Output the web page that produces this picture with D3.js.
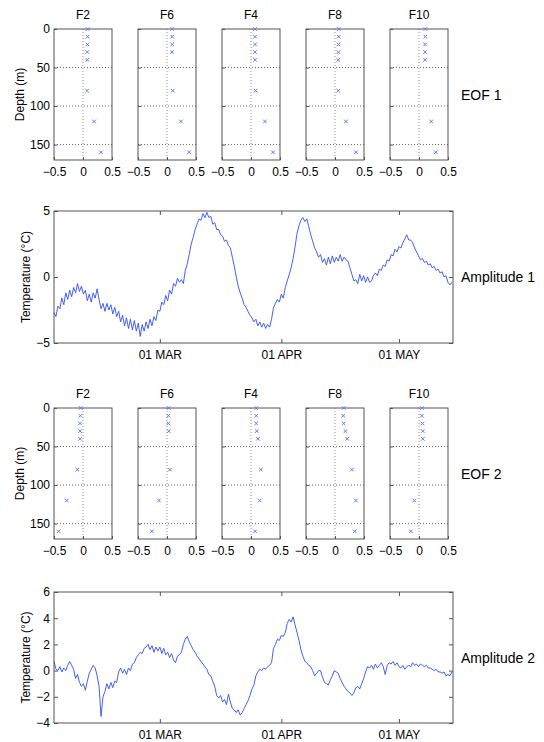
<!DOCTYPE html>
<html>
<head>
<meta charset="utf-8">
<script src="https://cdn.jsdelivr.net/npm/d3@7"></script>
<style>
  body { margin: 0; background: #fff; }
  svg { display: block; font-family: "Liberation Sans", Arial, sans-serif; }
  .axis text { font-size: 12px; fill: #000; }
  .axis line { stroke: #555; }
  .grid { stroke: #555; stroke-dasharray: 1,2; stroke-width: 0.9; }
  .frame { fill: none; stroke: #555; stroke-width: 1; }
</style>
</head>
<body>
<script>
// stations and sampled depths
const stations = ['F2', 'F6', 'F4', 'F8', 'F10'];
const depths = [0, 10, 20, 30, 40, 80, 120, 160];
const depthTicks = [0, 50, 100, 150];
const eofTicks = [-0.5, 0, 0.5];

// EOF loadings per station, one value per depth (null = no sensor)
const eof1 = [
  [0.08, 0.08, 0.075, 0.075, 0.075, 0.07, 0.19, 0.31],
  [0.09, 0.09, 0.09, 0.085, null, 0.1, 0.24, 0.38],
  [0.07, 0.07, 0.07, 0.07, 0.07, 0.08, 0.24, 0.38],
  [0.065, 0.065, 0.06, 0.06, 0.055, 0.055, 0.19, 0.36],
  [0.11, 0.11, 0.105, 0.105, 0.105, null, 0.21, 0.29],
];
const eof2 = [
  [-0.04, -0.045, -0.05, -0.05, -0.05, -0.1, -0.28, -0.42],
  [0.03, 0.025, 0.025, 0.03, null, 0.05, -0.14, -0.26],
  [0.09, 0.09, 0.09, 0.1, 0.12, 0.17, 0.15, 0.07],
  [0.15, 0.14, 0.15, 0.18, 0.21, 0.29, 0.36, 0.34],
  [0.05, 0.05, 0.06, 0.065, 0.065, null, -0.08, -0.14],
];

// amplitude time series, 12-hourly from 02 Feb
const amp1 = [
  -2.7, -3.0, -2.2, -2.4, -1.6, -2.1, -1.2, -1.7, -1.0, -1.5, -0.8, -1.2, -0.5, -1.1, -0.7, -1.3,
  -1.0, -1.8, -1.3, -1.9, -1.2, -1.6, -0.9, -1.7, -2.4, -2.0, -2.6, -2.0, -2.5, -2.1, -2.8, -2.3,
  -3.0, -2.6, -3.4, -2.9, -3.7, -3.1, -3.9, -3.2, -4.0, -3.3, -4.1, -3.5, -4.5, -3.6, -4.1, -3.4,
  -3.9, -3.2, -3.7, -3.0, -3.3, -2.5, -2.6, -1.9, -2.1, -1.4, -1.8, -1.0, -1.3, -0.5, -0.7, -0.1,
  -0.4, -0.2, -0.5, 0.5, 1.0, 1.7, 2.5, 3.0, 3.6, 4.0, 4.4, 4.3, 4.8, 4.5, 4.9, 4.5,
  4.6, 4.0, 4.1, 3.6, 3.6, 3.2, 3.1, 2.7, 2.8, 2.4, 2.2, 1.5, 0.8, 0.0, -0.7, -1.2,
  -1.6, -2.1, -2.3, -2.6, -2.9, -3.1, -3.4, -3.2, -3.7, -3.4, -3.8, -3.5, -3.9, -3.6, -3.8, -3.2,
  -2.3, -2.0, -1.7, -1.9, -1.3, -1.6, -0.8, -0.3, 0.2, 0.7, 1.4, 2.3, 3.3, 3.9, 4.3, 4.5,
  4.2, 4.4, 3.8, 3.2, 2.7, 2.2, 1.9, 1.5, 1.7, 1.1, 1.4, 0.9, 1.5, 1.0, 1.6, 1.1,
  1.5, 1.2, 1.7, 1.2, 1.5, 1.3, 1.2, 0.7, 0.2, -0.3, -0.2, -0.5, 0.2, -0.3, 0.1, -0.4,
  0.0, -0.4, -0.3, 0.1, 0.3, 0.1, 0.6, 0.5, 0.9, 0.8, 1.3, 1.2, 1.7, 1.6, 2.1, 1.9,
  2.3, 2.2, 2.6, 2.9, 3.2, 2.8, 2.8, 2.6, 2.2, 1.9, 1.6, 1.3, 1.4, 1.1, 1.2, 0.9,
  1.0, 0.7, 0.8, 0.5, 0.6, 0.3, 0.4, 0.0, 0.1, -0.4, -0.6, -0.4,
];
const amp2 = [
  0.7, 0.1, 0.0, 0.3, -0.1, 0.2, 0.0, 0.4, 0.7, 0.4, 0.1, -0.6, -0.3, -0.9, -1.2, -1.0,
  -1.5, -0.8, -0.2, 0.1, 0.4, 0.2, -0.4, -1.2, -3.5, -2.0, -1.6, -1.0, -1.4, -0.9, -1.3, -0.8,
  -0.9, -0.1, 0.2, -0.2, 0.1, -0.3, 0.2, 0.0, 0.5, 0.6, 1.0, 1.2, 1.4, 1.3, 1.7, 1.8,
  2.0, 1.6, 1.9, 1.4, 1.8, 1.5, 1.8, 1.3, 1.7, 1.2, 1.4, 1.0, 1.3, 0.8, 0.6, 1.1,
  1.2, 1.4, 2.0, 2.4, 2.6, 2.2, 1.9, 1.6, 1.4, 1.1, 0.9, 0.7, 0.5, 0.3, 0.1, -0.3,
  -0.4, -0.8, -1.2, -1.9, -2.1, -1.9, -2.4, -2.2, -2.6, -1.8, -2.4, -2.9, -3.0, -3.2, -3.0, -3.4,
  -3.2, -2.9, -2.6, -2.3, -1.9, -1.4, -1.1, -0.4, -0.1, 0.1, 0.0, 0.2, 0.1, 0.3, 0.4, 0.6,
  1.7, 2.0, 2.4, 2.3, 2.7, 2.6, 2.9, 3.6, 3.9, 3.7, 4.1, 3.5, 2.9, 2.3, 1.6, 1.1,
  0.7, 0.6, 0.4, 0.3, 0.0, -0.4, -0.2, 0.0, 0.0, -0.5, -0.9, -1.0, -1.1, -0.7, -0.4, 0.0,
  -0.1, -0.2, -0.6, -0.9, -1.2, -1.4, -1.6, -1.7, -1.9, -1.7, -1.3, -1.2, -1.4, -1.0, -0.6, -0.1,
  0.3, 0.2, 0.4, 0.1, 0.5, 0.2, 0.4, 0.6, 0.3, -0.3, 0.4, 0.6, 0.5, 0.7, 0.4, 0.6,
  0.3, 0.2, 0.4, 0.1, 0.3, 0.4, 0.3, 0.6, 0.4, 0.5, 0.3, 0.5, 0.4, 0.3, 0.4, 0.2,
  0.2, 0.1, 0.0, 0.1, -0.1, -0.1, -0.2, -0.1, -0.4, -0.3, -0.4, -0.1,
];
const dateTicks = [new Date(Date.UTC(2001, 2, 1)), new Date(Date.UTC(2001, 3, 1)), new Date(Date.UTC(2001, 4, 1))];

const W = 544, H = 742;
const lineColor = '#2f4ef5';
const markColor = '#6478ff';
const plotLeft = 54, plotRight = 453;
const panelW = 58, panelStep = 84;

const svg = d3.select('body').append('svg')
  .attr('width', W)
  .attr('height', H);

const fmt = d3.format('~g');

/* EOF profile row */
function drawEof(top, values, label) {
  const height = 131;
  const y = d3.scaleLinear().domain([0, 170]).range([top, top + height]);

  stations.forEach((name, i) => {
    const left = plotLeft + i * panelStep;
    const x = d3.scaleLinear().domain([-0.5, 0.5]).range([left, left + panelW]);
    const g = svg.append('g').attr('class', 'panel');

    // dotted grid
    g.selectAll('.hgrid')
      .data(depthTicks.slice(1))
      .enter().append('line')
      .attr('class', 'grid')
      .attr('x1', left).attr('x2', left + panelW)
      .attr('y1', d => y(d)).attr('y2', d => y(d));
    g.append('line')
      .attr('class', 'grid')
      .style('stroke', '#888')
      .attr('x1', x(0)).attr('x2', x(0))
      .attr('y1', top).attr('y2', top + height);

    const xAxis = d3.axisBottom(x)
      .tickValues(eofTicks)
      .tickSizeInner(-3)
      .tickSizeOuter(0)
      .tickPadding(7)
      .tickFormat(fmt);
    g.append('g')
      .attr('class', 'x axis')
      .attr('transform', `translate(0, ${top + height})`)
      .call(xAxis)
      .call(s => s.select('.domain').remove());

    const yAxis = d3.axisLeft(y)
      .tickValues(depthTicks)
      .tickSizeInner(-3)
      .tickSizeOuter(0)
      .tickPadding(4)
      .tickFormat(i === 0 ? fmt : '');
    g.append('g')
      .attr('class', 'y axis')
      .attr('transform', `translate(${left}, 0)`)
      .call(yAxis)
      .call(s => s.select('.domain').remove());

    g.append('rect')
      .attr('class', 'frame')
      .attr('x', left).attr('y', top)
      .attr('width', panelW).attr('height', height);

    // x markers
    const pts = depths.map((d, k) => ({ depth: d, v: values[i][k] })).filter(p => p.v !== null);
    g.selectAll('.mark')
      .data(pts)
      .enter().append('path')
      .attr('class', 'mark')
      .attr('d', 'M-1.8,-1.8L1.8,1.8M-1.8,1.8L1.8,-1.8')
      .attr('transform', p => `translate(${x(p.v)}, ${y(p.depth)})`)
      .style('stroke', markColor)
      .style('stroke-width', 1)
      .style('fill', 'none');

    g.append('text')
      .attr('x', left + panelW / 2)
      .attr('y', top - 10)
      .style('text-anchor', 'middle')
      .style('font-size', '12px')
      .text(name);
  });

  svg.append('text')
    .attr('transform', `translate(20, ${top + height / 2}) rotate(-90)`)
    .attr('dy', '0.35em')
    .style('text-anchor', 'middle')
    .style('font-size', '12px')
    .text('Depth (m)');

  svg.append('text')
    .attr('x', 461)
    .attr('y', top + height / 2)
    .attr('dy', '0.36em')
    .style('font-size', '14px')
    .text(label);
}

/* amplitude time series */
function drawAmp(top, height, series, yDomain, yTicks, label) {
  const t0 = Date.UTC(2001, 1, 2);
  const dates = series.map((v, i) => new Date(t0 + i * 12 * 3600e3));
  const x = d3.scaleUtc()
    .domain([new Date(t0), new Date(Date.UTC(2001, 4, 14, 19))])
    .range([plotLeft, plotRight]);
  const y = d3.scaleLinear().domain(yDomain).range([top + height, top]);
  const g = svg.append('g').attr('class', 'amp');
  const dateFmt = d => d3.utcFormat('%d %b')(d).toUpperCase();

  g.append('g')
    .attr('class', 'x axis')
    .attr('transform', `translate(0, ${top + height})`)
    .call(d3.axisBottom(x).tickValues(dateTicks).tickSizeInner(-4).tickSizeOuter(0).tickPadding(7).tickFormat(dateFmt))
    .call(s => s.select('.domain').remove());
  g.append('g')
    .attr('class', 'x axis')
    .attr('transform', `translate(0, ${top})`)
    .call(d3.axisTop(x).tickValues(dateTicks).tickSizeInner(-4).tickSizeOuter(0).tickFormat(''))
    .call(s => s.select('.domain').remove());
  g.append('g')
    .attr('class', 'y axis')
    .attr('transform', `translate(${plotLeft}, 0)`)
    .call(d3.axisLeft(y).tickValues(yTicks).tickSizeInner(-4).tickSizeOuter(0).tickPadding(4).tickFormat(fmt))
    .call(s => s.select('.domain').remove());
  g.append('g')
    .attr('class', 'y axis')
    .attr('transform', `translate(${plotRight}, 0)`)
    .call(d3.axisRight(y).tickValues(yTicks).tickSizeInner(-4).tickSizeOuter(0).tickFormat(''))
    .call(s => s.select('.domain').remove());

  const line = d3.line()
    .x((d, i) => x(dates[i]))
    .y(d => y(d));
  g.append('path')
    .datum(series)
    .attr('d', line)
    .style('fill', 'none')
    .style('stroke', lineColor)
    .style('stroke-width', 0.9);

  g.append('rect')
    .attr('class', 'frame')
    .attr('x', plotLeft).attr('y', top)
    .attr('width', plotRight - plotLeft).attr('height', height);

  svg.append('text')
    .attr('transform', `translate(26, ${top + height / 2}) rotate(-90)`)
    .attr('dy', '0.35em')
    .style('text-anchor', 'middle')
    .style('font-size', '12px')
    .text('Temperature (°C)');

  svg.append('text')
    .attr('x', 461)
    .attr('y', top + height / 2)
    .attr('dy', '0.36em')
    .style('font-size', '14px')
    .text(label);
}

drawEof(29, eof1, 'EOF 1');
drawAmp(211, 132, amp1, [-5, 5], [-5, 0, 5], 'Amplitude 1');
drawEof(408, eof2, 'EOF 2');
drawAmp(592, 131, amp2, [-4, 6], [-4, -2, 0, 2, 4, 6], 'Amplitude 2');
</script>
</body>
</html>
